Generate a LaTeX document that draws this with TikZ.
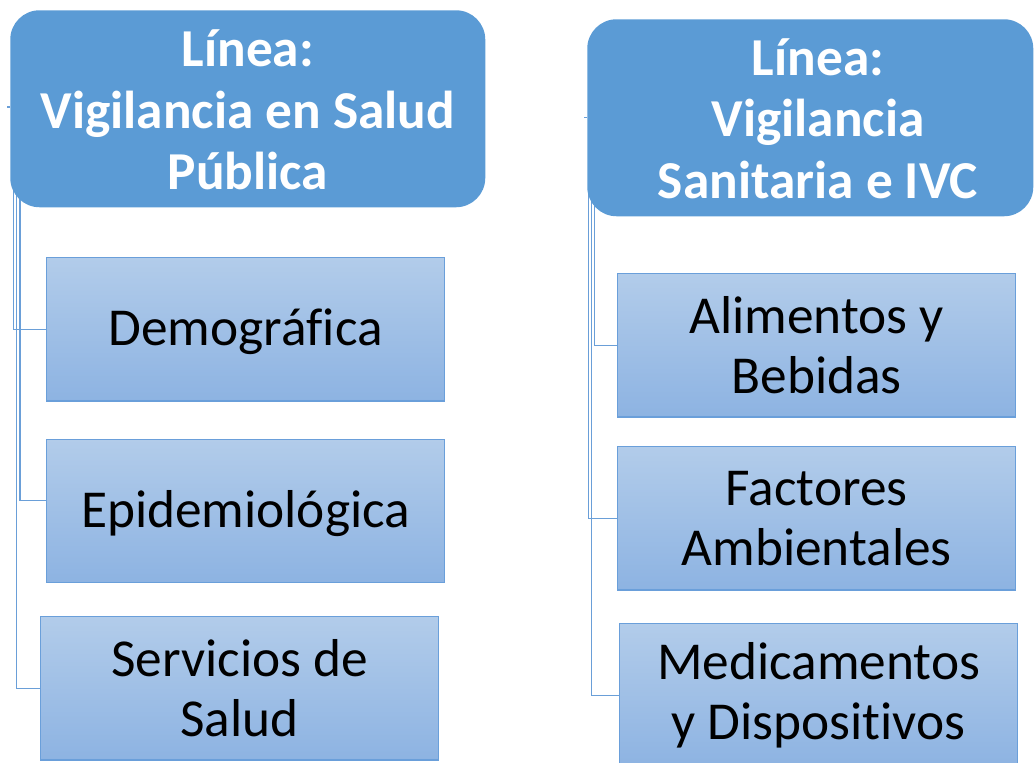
\documentclass[tikz,border=0pt]{standalone}
\usepackage{fontspec}
\setmainfont{Carlito}[RawFeature={-liga;-clig;-dlig}]
\definecolor{hdr}{HTML}{5B9BD5}
\definecolor{boxtop}{HTML}{B2CCEA}
\definecolor{boxbot}{HTML}{8DB3E2}
\definecolor{boxline}{HTML}{6A9FDA}
\definecolor{conn}{HTML}{6A9FD8}
\begin{document}
\begin{tikzpicture}[x=0.75pt,y=-0.75pt,
  header/.style={fill=hdr,draw=none,rounded corners=22pt,anchor=north west,inner sep=0pt},
  hdrtext/.style={text=white,font=\fontsize{40pt}{46pt}\selectfont\bfseries,align=center,inner sep=0pt},
  itembox/.style={draw=boxline,line width=0.9pt,top color=boxtop,bottom color=boxbot,anchor=north west,inner sep=0pt,
    minimum width=298.5pt,minimum height=107.5pt,align=center,font=\fontsize{40pt}{45pt}\selectfont},
  oneline/.style={text height=33pt,text depth=8pt},
  connector/.style={draw=conn,line width=0.8pt}]
\useasboundingbox (0,0) rectangle (1034,763);
% anchor coordinates behind the headers
\coordinate (lt) at (7,107);
\coordinate (l1) at (13.5,150);
\coordinate (l2) at (20,150);
\coordinate (l3) at (16.5,150);
\coordinate (rt) at (584,117.5);
\coordinate (r1) at (594.5,160);
\coordinate (r2) at (588.5,160);
\coordinate (r3) at (591.5,160);
% items
\node[itembox,oneline] (demo) at (46,257) {Demográfica};
\node[itembox,oneline] (epi) at (46,438.5) {Epidemiológica};
\node[itembox] (serv) at (40,616) {Servicios de\\Salud};
\node[itembox] (alim) at (617,273) {Alimentos y\\Bebidas};
\node[itembox] (fact) at (617,446) {Factores\\Ambientales};
\node[itembox] (medi) at (619,623) {Medicamentos\\y Dispositivos};
% connectors
\draw[connector] (l1) |- (demo.west);
\draw[connector] (l2) |- ([yshift=7.5pt]epi.west);
\draw[connector] (l3) |- (serv.west);
\draw[connector] (r1) |- (alim.west);
\draw[connector] (r2) |- (fact.west);
\draw[connector] (r3) |- (medi.west);
% headers
\node[header,minimum width=356.25pt,minimum height=147.75pt] (hdrL) at (10,10) {};
\node[header,minimum width=334.5pt,minimum height=147.75pt] (hdrR) at (587,19) {};
\draw[connector] (lt) -- (hdrL.west |- lt);
\draw[connector] (rt) -- (hdrR.west |- rt);
\node[hdrtext] (hdrLtext) at ([yshift=-1pt]hdrL.center) {Línea:\\Vigilancia en Salud\\Pública};
\node[hdrtext] (hdrRtext) at (818,118.5) {Línea:\\Vigilancia\\Sanitaria e IVC};
\end{tikzpicture}
\end{document}
